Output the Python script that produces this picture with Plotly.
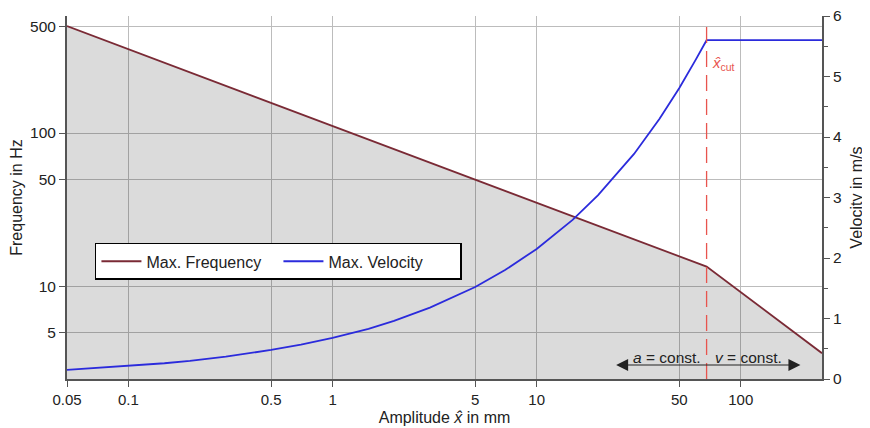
import math
import plotly.graph_objects as go

# ---- data ----
freq_amp = [0.05, 68, 250]            # amplitude in mm
freq_hz = [500, 13.4, 3.64]           # max. frequency in Hz

vel_amp = [0.05, 0.07, 0.1, 0.15, 0.2, 0.3, 0.5, 0.7, 1, 1.5, 2, 3, 5, 7,
           10, 15, 20, 30, 40, 50, 60, 68, 100, 150, 250]
vel_ms = [0.15, 0.18, 0.215, 0.26, 0.30, 0.37, 0.48, 0.57, 0.68, 0.83, 0.96,
          1.18, 1.52, 1.80, 2.15, 2.63, 3.04, 3.72, 4.30, 4.81, 5.27, 5.6,
          5.6, 5.6, 5.6]

X_CUT = 68
x_ticks = [0.05, 0.1, 0.5, 1, 5, 10, 50, 100]
x_tick_labels = ["0.05", "0.1", "0.5", "1", "5", "10", "50", "100"]
y_ticks = [5, 10, 50, 100, 500]
y2_ticks = [0, 1, 2, 3, 4, 5, 6]

FONT = "Liberation Sans, Arial, sans-serif"
AX = "#555555"
GRID = "#bcbcbc"
FREQ_C = "#7a2a35"
VEL_C = "#2b2bdc"
CUT_C = "#e8544e"

fig = go.Figure()

# gray fill under the frequency curve (baseline below the axis range)
fig.add_trace(go.Scatter(x=freq_amp, y=[1] * len(freq_amp), mode="lines",
                         line=dict(width=0), showlegend=False, hoverinfo="skip"))
fig.add_trace(go.Scatter(x=freq_amp, y=freq_hz, mode="lines",
                         line=dict(width=0), fill="tonexty",
                         fillcolor="rgba(0,0,0,0.14)",
                         showlegend=False, hoverinfo="skip"))
fig.add_trace(go.Scatter(x=freq_amp, y=freq_hz, mode="lines", name="Max. Frequency",
                         line=dict(color=FREQ_C, width=1.8)))
fig.add_trace(go.Scatter(x=vel_amp, y=vel_ms, mode="lines", name="Max. Velocity",
                         line=dict(color=VEL_C, width=1.8), yaxis="y2"))
# x_cut dashed line
fig.add_trace(go.Scatter(x=[X_CUT, X_CUT], y=[0, 5.9], mode="lines", yaxis="y2",
                         line=dict(color=CUT_C, width=1.3, dash="16px,8px"),
                         showlegend=False, hoverinfo="skip"))

lx = math.log10
# page body has an 8px margin, so the figure is sized/offset to compensate
fig.update_layout(
    width=862, height=421,
    margin=dict(l=59, r=48, t=8, b=50),
    paper_bgcolor="white", plot_bgcolor="white",
    font=dict(family=FONT, size=15, color="#222222"),
    xaxis=dict(type="log", range=[lx(0.05), lx(250)], automargin=False,
               tickvals=x_ticks, ticktext=x_tick_labels,
               showgrid=True, gridcolor=GRID, gridwidth=1,
               showline=True, linecolor=AX, linewidth=2,
               ticks="outside", ticklen=6, tickcolor=AX,
               zeroline=False, tickfont=dict(size=15),
               ticklabeloverflow="allow",
               title=dict(text="Amplitude <i>x̂</i> in mm", standoff=5,
                          font=dict(size=16))),
    yaxis=dict(type="log", range=[lx(2.47), lx(582)], automargin=False,
               tickvals=y_ticks, ticktext=[str(v) for v in y_ticks],
               showgrid=True, gridcolor=GRID, gridwidth=1,
               showline=True, linecolor=AX, linewidth=2,
               ticks="outside", ticklen=6, tickcolor=AX, tickfont=dict(size=15.5),
               ticklabeloverflow="allow",
               title=dict(text="Frequency in Hz", standoff=4,
                          font=dict(size=16))),
    yaxis2=dict(overlaying="y", side="right", range=[0, 6], automargin=False,
                tickvals=y2_ticks, showgrid=False, zeroline=False,
                showline=True, linecolor=AX, linewidth=2,
                ticks="outside", ticklen=6, tickcolor=AX, tickfont=dict(size=15.5),
                ticklabeloverflow="allow",
                minor=dict(dtick=0.5, ticks="outside", ticklen=4, tickcolor=AX),
                title=dict(text="Velocity in m/s", standoff=10,
                           font=dict(size=16))),
    legend=dict(orientation="h", x=0.037, y=0.375, xanchor="left", yanchor="top",
                traceorder="normal",
                bgcolor="white", bordercolor="black", borderwidth=1.5,
                font=dict(size=16), itemwidth=40, entrywidth=127),
    showlegend=True,
)

# annotations
fig.add_annotation(x=lx(X_CUT), y=5.22, xref="x", yref="y2",
                   text="<i>x̂</i><sub>cut</sub>", showarrow=False,
                   xanchor="left", xshift=3, font=dict(color=CUT_C, size=15))

ARROW_Y = 0.231
fig.add_annotation(x=lx(196), y=ARROW_Y, ax=lx(24.1), ay=ARROW_Y,
                   xref="x", yref="y2", axref="x", ayref="y2",
                   text="", showarrow=True, arrowhead=2, arrowside="end+start",
                   arrowsize=2, arrowwidth=1.2, arrowcolor="#222222")
fig.add_annotation(x=lx(X_CUT), y=ARROW_Y, xref="x", yref="y2",
                   text="<i>a</i> = const.", showarrow=False,
                   xanchor="right", xshift=-4, yshift=8,
                   font=dict(size=15.5, color="#222222"))
fig.add_annotation(x=lx(X_CUT), y=ARROW_Y, xref="x", yref="y2",
                   text="<i>v</i> = const.", showarrow=False,
                   xanchor="left", xshift=6, yshift=8,
                   font=dict(size=15.5, color="#222222"))

fig.write_html("out.html")
